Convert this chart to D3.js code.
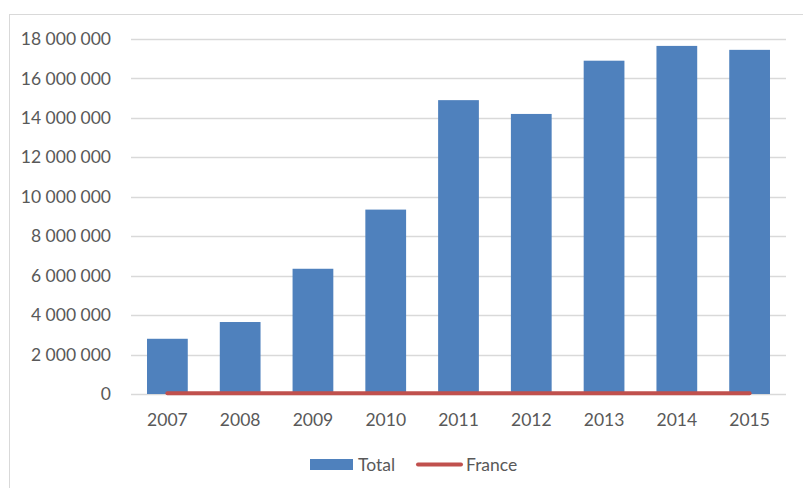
<!DOCTYPE html>
<html>
<head>
<meta charset="utf-8">
<script src="https://cdn.jsdelivr.net/npm/d3@7"></script>
<style>
  body { margin: 0; background: #fff; }
  text { font-family: Lato, "Open Sans", sans-serif; fill: #595959; }
</style>
</head>
<body>
<div id="chart"></div>
<script>
// years on the x axis
const years = ["2007", "2008", "2009", "2010", "2011", "2012", "2013", "2014", "2015"];
// series values
const total = [2800000, 3650000, 6350000, 9350000, 14900000, 14200000, 16900000, 17650000, 17450000];
const france = [40000, 40000, 40000, 40000, 40000, 40000, 40000, 40000, 40000];
const yTicks = [0, 2000000, 4000000, 6000000, 8000000, 10000000, 12000000, 14000000, 16000000, 18000000];

const W = 803, H = 488;
const margin = { top: 39, right: 17, bottom: 94, left: 131 };
const width = W - margin.left - margin.right;
const height = H - margin.top - margin.bottom;

const svg = d3.select("#chart").append("svg")
  .attr("width", W)
  .attr("height", H);

// chart frame
svg.append("rect")
  .attr("x", 9.5).attr("y", 14.5)
  .attr("width", 820).attr("height", 500)
  .attr("fill", "none")
  .attr("stroke", "#d9d9d9")
  .attr("stroke-width", 1);

const g = svg.append("g")
  .attr("transform", "translate(" + margin.left + "," + margin.top + ")");

const x = d3.scaleBand()
  .domain(years)
  .range([0, width])
  .paddingInner(0.44)
  .paddingOuter(0.22);

const y = d3.scaleLinear()
  .domain([0, 18000000])
  .range([height, 0]);

const fmt = v => d3.format(",")(v).replace(/,/g, " ");

// gridlines
g.append("g")
  .selectAll("line")
  .data(yTicks)
  .enter().append("line")
  .attr("x1", 0).attr("x2", width)
  .attr("y1", d => Math.round(y(d)) + 0.5)
  .attr("y2", d => Math.round(y(d)) + 0.5)
  .attr("stroke", "#d9d9d9")
  .attr("stroke-width", 1.5);

// Y axis labels
const yAxis = g.append("g")
  .call(d3.axisLeft(y).tickValues(yTicks).tickFormat(fmt).tickSize(0).tickPadding(20));
yAxis.select(".domain").remove();
yAxis.selectAll("text").style("font-size", "17.5px").attr("fill", "#595959");

// X axis labels
const xAxis = g.append("g")
  .attr("transform", "translate(0," + height + ")")
  .call(d3.axisBottom(x).tickSize(0).tickPadding(20));
xAxis.select(".domain").remove();
xAxis.selectAll("text").style("font-size", "17.5px").attr("fill", "#595959");

// bars
g.selectAll(".bar")
  .data(total)
  .enter().append("rect")
  .attr("class", "bar")
  .attr("x", (d, i) => x(years[i]))
  .attr("y", d => y(d))
  .attr("width", x.bandwidth())
  .attr("height", d => height - y(d))
  .attr("fill", "#4f81bd");

// France line
const line = d3.line()
  .x((d, i) => x(years[i]) + x.bandwidth() / 2)
  .y(d => y(d));

g.append("path")
  .datum(france)
  .attr("d", line)
  .attr("fill", "none")
  .attr("stroke", "#c0504d")
  .attr("stroke-width", 4)
  .attr("stroke-linecap", "round");

// legend
const legend = svg.append("g");
legend.append("rect")
  .attr("x", 310).attr("y", 459)
  .attr("width", 43).attr("height", 11)
  .attr("fill", "#4f81bd");
legend.append("text")
  .attr("x", 358).attr("y", 471)
  .style("font-size", "17.5px")
  .text("Total");
legend.append("line")
  .attr("x1", 418).attr("x2", 461)
  .attr("y1", 464.5).attr("y2", 464.5)
  .attr("stroke", "#c0504d")
  .attr("stroke-width", 4)
  .attr("stroke-linecap", "round");
legend.append("text")
  .attr("x", 466).attr("y", 471)
  .style("font-size", "17.5px")
  .text("France");
</script>
</body>
</html>
